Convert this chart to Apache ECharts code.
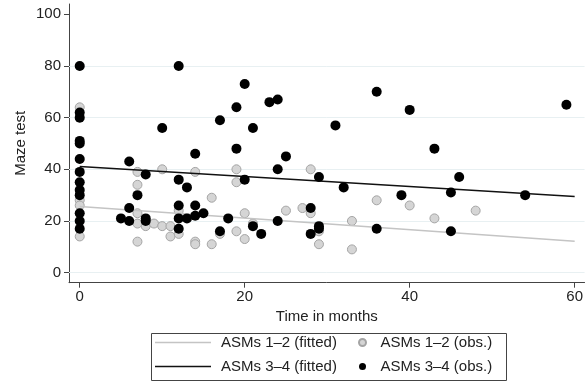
<!DOCTYPE html>
<html>
<head>
<meta charset="utf-8">
<script src="https://cdn.jsdelivr.net/npm/echarts@6/dist/echarts.min.js"></script>
<style>
  html, body { margin: 0; padding: 0; background: #fff; }
  #chart { width: 586px; height: 383px; }
</style>
</head>
<body>
<div id="chart"></div>
<script>
// tick labels
var xTicks = [0, 20, 40, 60];
var yTicks = [0, 20, 40, 60, 80, 100];
var gridValues = [0, 20, 40, 60, 80];

// ASMs 1-2 observed [months, score]
var obs12 = [
    [0, 64], [0, 28], [0, 26], [0, 14], [7, 39], [7, 34], [7, 23], [7, 19], [7, 12],
    [8, 18], [9, 19], [10, 18], [10, 40], [11, 18], [11, 14], [12, 24], [12, 15],
    [14, 39], [14, 12], [14, 11], [16, 29], [16, 11], [17, 15], [19, 40], [19, 35],
    [19, 16], [20, 23], [20, 13], [21, 19], [25, 24], [27, 25], [28, 40], [28, 23],
    [29, 16], [29, 11], [33, 20], [33, 9], [36, 28], [40, 26], [43, 21], [48, 24]
];
// ASMs 3-4 observed
var obs34 = [
    [0, 80], [0, 62], [0, 60], [0, 51], [0, 50], [0, 44], [0, 39], [0, 35], [0, 32],
    [0, 30], [0, 23], [0, 20], [0, 17], [5, 21], [6, 43], [6, 25], [6, 20], [7, 30],
    [8, 38], [8, 21], [8, 20], [10, 56], [12, 80], [12, 36], [12, 26], [12, 21],
    [12, 17], [13, 33], [13, 21], [14, 46], [14, 26], [14, 22], [15, 23], [17, 59],
    [17, 16], [18, 21], [19, 64], [19, 48], [20, 73], [20, 36], [21, 56], [21, 18],
    [22, 15], [23, 66], [24, 67], [24, 40], [24, 20], [25, 45], [28, 25], [28, 15],
    [29, 37], [29, 18], [29, 17], [31, 57], [32, 33], [36, 70], [36, 17], [39, 30],
    [40, 63], [43, 48], [45, 31], [45, 16], [46, 37], [54, 30], [59, 65]
];
// fitted lines
var fit12 = [[0, 25.6], [60, 12.1]];
var fit34 = [[0, 41.1], [60, 29.5]];

var fontFamily = '"Liberation Sans", Arial, sans-serif';
var txt = {color: '#222', fontSize: 15, fontFamily: fontFamily};

var chart = echarts.init(document.getElementById('chart'));
var option = {
    animation: false,
    textStyle: {fontFamily: fontFamily},
    grid: {left: 69, right: 0, top: 4, height: 278.7},
    xAxis: {
        type: 'value',
        min: -1.3,
        max: 61.2,
        name: 'Time in months',
        nameLocation: 'middle',
        nameGap: 26,
        nameTextStyle: txt,
        axisLine: {show: true, onZero: false, lineStyle: {color: '#444'}},
        axisTick: {show: true, length: 5, lineStyle: {color: '#444'}, customValues: xTicks},
        axisLabel: Object.assign({margin: 7, customValues: xTicks}, txt),
        splitLine: {show: false}
    },
    yAxis: {
        type: 'value',
        min: -3.9,
        max: 104,
        name: 'Maze test',
        nameLocation: 'middle',
        nameGap: 41,
        nameRotate: 90,
        nameMoveOverlap: false,
        nameTextStyle: txt,
        axisLine: {show: true, onZero: false, lineStyle: {color: '#444'}},
        axisTick: {show: true, length: 5, lineStyle: {color: '#444'}, customValues: yTicks},
        axisLabel: Object.assign({margin: 8, customValues: yTicks}, txt),
        splitLine: {show: false}
    },
    legend: [
        {
            orient: 'vertical',
            left: 155,
            top: 335,
            padding: 0,
            itemGap: 9,
            itemWidth: 56,
            itemHeight: 1.5,
            textStyle: Object.assign({padding: [0, 0, 0, 5]}, txt),
            data: [
                {name: 'ASMs 1–2 (fitted)', icon: 'rect'},
                {name: 'ASMs 3–4 (fitted)', icon: 'rect'}
            ]
        },
        {
            orient: 'vertical',
            left: 358,
            top: 335,
            padding: 0,
            itemGap: 9,
            itemWidth: 26,
            itemHeight: 7,
            textStyle: txt,
            data: ['ASMs 1–2 (obs.)', 'ASMs 3–4 (obs.)']
        }
    ],
    graphic: [{
        type: 'rect',
        left: 149,
        top: 331,
        shape: {width: 355, height: 47},
        style: {fill: 'none', stroke: '#444', lineWidth: 1}
    }],
    series: [
        {
            name: 'ASMs 1–2 (obs.)',
            type: 'scatter',
            symbolSize: 9,
            itemStyle: {color: '#d5d5d5', borderColor: '#a4a4a4', borderWidth: 1, opacity: 1},
            data: obs12,
            z: 2,
            markLine: {
                silent: true,
                symbol: 'none',
                label: {show: false},
                lineStyle: {color: '#e8f0f2', width: 1, type: 'solid'},
                data: gridValues.map(function (v) { return {yAxis: v}; }),
                z: 1
            }
        },
        {
            name: 'ASMs 1–2 (fitted)',
            type: 'line',
            symbol: 'none',
            lineStyle: {color: '#c4c4c4', width: 1.5},
            itemStyle: {color: '#c4c4c4'},
            data: fit12,
            z: 3
        },
        {
            name: 'ASMs 3–4 (fitted)',
            type: 'line',
            symbol: 'none',
            lineStyle: {color: '#111', width: 1.5},
            itemStyle: {color: '#111'},
            data: fit34,
            z: 4
        },
        {
            name: 'ASMs 3–4 (obs.)',
            type: 'scatter',
            symbolSize: 10,
            itemStyle: {color: '#000', borderWidth: 0, opacity: 1},
            data: obs34,
            z: 5
        }
    ]
};
chart.setOption(option);
window.onresize = chart.resize;
</script>
</body>
</html>
